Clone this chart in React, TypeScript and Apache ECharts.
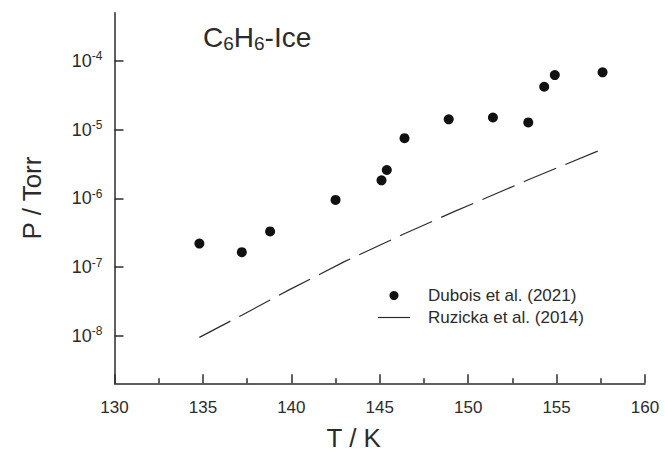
import React, { useEffect, useRef } from "react";
import * as echarts from "echarts";

// Dubois et al. (2021): temperature (K) and vapour pressure (Torr)
const duboisT = [134.8, 137.2, 138.8, 142.5, 145.1, 145.4, 146.4, 148.9, 151.4, 153.4, 154.3, 154.9, 157.6];
const duboisP = [2.2e-7, 1.65e-7, 3.3e-7, 9.5e-7, 1.83e-6, 2.58e-6, 7.5e-6, 1.41e-5, 1.5e-5, 1.27e-5, 4.2e-5, 6.2e-5, 6.8e-5];

// Ruzicka et al. (2014)
const ruzickaT = [134.8, 137.2, 139.9, 143.0, 146.2, 149.2, 153.4, 157.6];
const ruzickaP = [9.5e-9, 2.0e-8, 4.7e-8, 1.2e-7, 2.9e-7, 6.4e-7, 1.86e-6, 5.2e-6];

const xTicks = [130, 135, 140, 145, 150, 155, 160];
const yDecades = [-8, -7, -6, -5, -4];

const FONT = "Liberation Sans, Arial, sans-serif";
const INK = "#2b2b2b";

export default function App() {
  const ref = useRef<HTMLDivElement>(null);
  useEffect(() => {
    if (!ref.current) return;
    const chart = echarts.init(ref.current, null, { renderer: "svg" });
    const toLog = (T: number[], P: number[]) => T.map((t, i) => [t, Math.log10(P[i])]);
    chart.setOption({
      animation: false,
      backgroundColor: "#ffffff",
      textStyle: { fontFamily: FONT, color: INK },
      title: {
        text: "{a|C}{s|6}{a|H}{s|6}{a|-Ice}",
        left: 203,
        top: 22,
        padding: 0,
        textStyle: {
          fontWeight: "normal",
          rich: {
            a: { fontSize: 28, fontFamily: FONT, color: INK, fontWeight: "normal" },
            s: { fontSize: 19, fontFamily: FONT, color: INK, fontWeight: "normal", padding: [12, 0, 0, 0] },
          },
        },
      },
      legend: {
        orient: "vertical",
        left: 378,
        top: 287,
        padding: 0,
        itemWidth: 32,
        itemHeight: 9,
        itemGap: 5,
        formatter: (n: string) => `{t|${n}}`,
        textStyle: {
          rich: {
            t: { fontSize: 17, fontFamily: FONT, color: INK, lineHeight: 17, padding: [0, 0, 0, 13] },
          },
        },
        data: [
          { name: "Dubois et al. (2021)", icon: "circle", itemStyle: { opacity: 1, color: "#111111" } },
          { name: "Ruzicka et al. (2014)", icon: "path://M0,0L32,0L32,1.2L0,1.2Z" },
        ],
      },
      grid: { left: 114.5, right: 20, top: 12.7, bottom: 76.7, containLabel: false, outerBoundsMode: "none" },
      xAxis: {
        type: "value",
        min: xTicks[0],
        max: xTicks[xTicks.length - 1],
        interval: 5,
        name: "T / K",
        nameLocation: "middle",
        nameGap: 42,
        nameTextStyle: { fontSize: 26, fontFamily: FONT, color: INK, padding: [0, 52, 0, 0] },
        axisLine: { show: true, onZero: false, lineStyle: { color: INK, width: 1.5 } },
        axisTick: { show: true, inside: true, length: 9, lineStyle: { color: INK, width: 1.5 } },
        minorTick: { show: true, splitNumber: 2, length: 5, lineStyle: { color: INK, width: 1.5 } },
        axisLabel: { fontSize: 17, fontFamily: FONT, color: INK, margin: 16 },
        splitLine: { show: false },
        minorSplitLine: { show: false },
      },
      yAxis: {
        type: "value",
        min: -8.69,
        max: -3.3,
        name: "P / Torr",
        nameLocation: "middle",
        nameGap: 70,
        nameTextStyle: { fontSize: 26, fontFamily: FONT, color: INK },
        axisLine: { show: true, onZero: false, lineStyle: { color: INK, width: 1.5 } },
        axisTick: { show: true, inside: true, length: 9, customValues: yDecades, lineStyle: { color: INK, width: 1.5 } },
        axisLabel: {
          customValues: yDecades,
          margin: 12,
          formatter: (v: number) => `{b|10}{s|${Math.round(v)}}`,
          rich: {
            b: { fontSize: 18, fontFamily: FONT, color: INK },
            s: { fontSize: 12, fontFamily: FONT, color: INK, padding: [0, 0, 9, 0] },
          },
        },
        splitLine: { show: false },
      },
      series: [
        {
          name: "Dubois et al. (2021)",
          type: "scatter",
          symbol: "circle",
          symbolSize: 10,
          itemStyle: { color: "#111111", opacity: 1 },
          data: toLog(duboisT, duboisP),
          z: 3,
        },
        {
          name: "Ruzicka et al. (2014)",
          type: "line",
          symbol: "none",
          smooth: false,
          lineStyle: { color: INK, width: 1.2, type: [35, 10] },
          itemStyle: { color: INK },
          data: toLog(ruzickaT, ruzickaP),
          z: 2,
        },
      ],
    });
    return () => chart.dispose();
  }, []);
  return <div ref={ref} style={{ width: 665, height: 460, position: "fixed", left: 0, top: 0 }} />;
}
